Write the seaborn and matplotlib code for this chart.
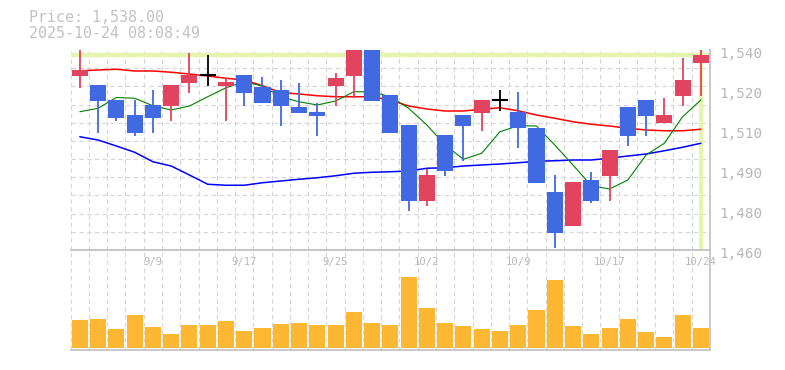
import numpy as np
import pandas as pd
import matplotlib
matplotlib.use("Agg")
import matplotlib.pyplot as plt
import matplotlib.transforms as mtransforms
import seaborn as sns

# ---------------- data ----------------
dates = ["9/3", "9/4", "9/5", "9/8", "9/9", "9/10", "9/11", "9/12", "9/16", "9/17",
         "9/18", "9/19", "9/22", "9/24", "9/25", "9/26", "9/29", "9/30", "10/1", "10/2",
         "10/3", "10/6", "10/7", "10/8", "10/9", "10/10", "10/14", "10/15", "10/16", "10/17",
         "10/20", "10/21", "10/22", "10/23", "10/24"]
opens = [1529.7, 1526.0, 1520.0, 1514.0, 1518.0, 1517.7, 1526.9, 1530.0, 1525.7, 1530.0,
         1525.2, 1524.0, 1517.3, 1515.3, 1525.7, 1529.7, 1543.0, 1522.0, 1510.0, 1479.7,
         1506.0, 1514.0, 1514.9, 1520.0, 1515.3, 1509.0, 1483.2, 1469.7, 1488.0, 1489.7,
         1517.1, 1520.0, 1510.9, 1521.7, 1534.9]
highs = [1542.0, 1526.0, 1520.0, 1520.0, 1524.0, 1526.0, 1539.0, 1538.0, 1529.0, 1530.0,
         1529.3, 1528.0, 1527.0, 1519.0, 1531.0, 1542.0, 1544.0, 1522.0, 1510.0, 1492.4,
         1506.0, 1514.0, 1520.0, 1524.0, 1523.3, 1509.0, 1490.0, 1487.2, 1491.2, 1500.0,
         1517.1, 1520.0, 1521.0, 1537.0, 1541.0]
lows = [1524.9, 1506.9, 1511.7, 1505.7, 1506.9, 1511.7, 1522.9, 1525.7, 1511.7, 1517.7,
        1518.9, 1509.7, 1514.9, 1505.7, 1517.7, 1521.0, 1519.7, 1506.9, 1475.7, 1477.7,
        1489.7, 1495.7, 1507.7, 1515.7, 1501.0, 1486.9, 1461.0, 1469.7, 1479.0, 1479.7,
        1501.7, 1505.7, 1510.9, 1517.7, 1521.7]
closes = [1532.0, 1519.7, 1512.9, 1506.9, 1512.9, 1526.0, 1530.0, 1530.0, 1527.3, 1522.9,
          1518.9, 1517.7, 1514.9, 1513.7, 1529.0, 1541.0, 1519.7, 1506.9, 1479.7, 1490.0,
          1491.7, 1509.7, 1520.0, 1520.0, 1508.9, 1486.9, 1466.9, 1487.2, 1479.7, 1500.0,
          1505.7, 1513.7, 1514.0, 1528.0, 1538.0]
volume = [277, 287, 187, 327, 207, 137, 227, 227, 267, 167,
          197, 237, 247, 227, 227, 357, 247, 227, 710, 397,
          247, 217, 187, 167, 227, 377, 677, 217, 137, 197,
          287, 157, 107, 327, 197]
ma_short = [1515.3, 1516.7, 1521.0, 1520.7, 1517.7, 1516.0, 1517.6, 1521.3, 1524.9, 1527.3,
            1525.6, 1521.3, 1519.3, 1518.0, 1519.6, 1523.3, 1523.3, 1521.3, 1516.7, 1510.0,
            1502.0, 1496.3, 1498.7, 1507.3, 1509.7, 1509.6, 1502.0, 1494.0, 1485.7, 1484.4,
            1488.0, 1498.0, 1502.7, 1513.3, 1520.0]
ma_mid = [1531.7, 1532.0, 1532.3, 1531.6, 1531.6, 1531.1, 1530.4, 1529.6, 1528.7, 1528.0,
          1525.7, 1523.0, 1522.4, 1521.7, 1521.3, 1521.3, 1521.3, 1520.0, 1517.6, 1516.4,
          1515.6, 1515.6, 1516.3, 1516.9, 1515.7, 1514.0, 1512.7, 1511.3, 1510.3, 1509.6,
          1508.7, 1508.0, 1507.7, 1507.7, 1508.3]
ma_long = [1505.3, 1504.0, 1501.6, 1499.1, 1495.3, 1493.6, 1490.0, 1486.3, 1485.9, 1485.9,
           1486.9, 1487.6, 1488.3, 1488.9, 1489.7, 1490.7, 1491.1, 1491.3, 1491.6, 1492.7,
           1492.9, 1493.6, 1494.0, 1494.4, 1494.9, 1495.5, 1495.7, 1496.0, 1496.0, 1496.7,
           1497.6, 1498.4, 1499.7, 1501.1, 1502.7]
price_ticks = [1460, 1476, 1492, 1508, 1524, 1540]
price_tick_labels = ["1,460", "1,480", "1,490", "1,510", "1,520", "1,540"]
current_price = 1538.0
title_lines = ["Price: 1,538.00", "2025-10-24 08:08:49"]

# ---------------- style ----------------
sns.set_theme(style="white")
plt.rcParams["font.family"] = ["DejaVu Sans Mono", "DejaVu Sans"]

UP = "#e2445f"
DOWN = "#4169e1"
GRID = "#d6d6d6"
SPINE = "#c4c4c4"
TXT = "#b8b8b8"
HL = "#e4f5b0"

df = pd.DataFrame({"idx": np.arange(len(dates)), "date": dates, "open": opens, "high": highs,
                   "low": lows, "close": closes, "vol": volume,
                   "ma_s": ma_short, "ma_m": ma_mid, "ma_l": ma_long})
n = len(df)
colors = [UP if c > o else (DOWN if c < o else "black") for o, c in zip(df.open, df.close)]

fig = plt.figure(figsize=(7.85, 3.7), dpi=100)
W, H = 785.0, 370.0
x0, x1 = 70.7, 710.0
ax = fig.add_axes([x0 / W, 1 - 250 / H, (x1 - x0) / W, 200 / H])
vax = fig.add_axes([x0 / W, 1 - 350 / H, (x1 - x0) / W, 100 / H])

# ---------------- price panel ----------------
ax.set_xlim(-0.5, n - 0.5)
ax.set_ylim(price_ticks[0], price_ticks[-1])
ax.set_xticks(np.arange(-0.5, n, 1.0))
ax.set_yticks(np.linspace(price_ticks[0], price_ticks[-1], 12), minor=True)
ax.grid(True, which="major", axis="x", color=GRID, lw=0.8, ls=(0, (4, 3)))
ax.grid(True, which="minor", axis="y", color=GRID, lw=0.8, ls=(0, (4, 3)))
ax.grid(False, which="major", axis="y")
ax.tick_params(axis="x", length=0, labelbottom=False)
ax.yaxis.tick_right()
ax.set_yticks(price_ticks)
ax.set_yticklabels(price_tick_labels)
ax.tick_params(axis="y", which="both", length=0, pad=7, labelsize=10.3, labelcolor=TXT)
off = mtransforms.ScaledTranslation(0, -3 / 100, fig.dpi_scale_trans)
for lab in ax.get_yticklabels():
    lab.set_transform(lab.get_transform() + off)
for s in ["top", "left"]:
    ax.spines[s].set_visible(False)
for s in ["right", "bottom"]:
    ax.spines[s].set_color(SPINE)
    ax.spines[s].set_linewidth(1.3)

# highlight of the current price and last date
ax.axhline(current_price, color=HL, lw=3.2, zorder=1)
ax.axvline(n - 1, color=HL, lw=3.0, zorder=1)

# moving averages
sns.lineplot(data=df, x="idx", y="ma_l", ax=ax, color="#0000ff", lw=1.1, zorder=2)
sns.lineplot(data=df, x="idx", y="ma_m", ax=ax, color="#ff0000", lw=1.1, zorder=2)
sns.lineplot(data=df, x="idx", y="ma_s", ax=ax, color="#008000", lw=0.8, zorder=2)

# candles
ax.vlines(df.idx, df.low, df.high, colors=colors, lw=1.3, zorder=3)
body = (df.close - df.open).to_numpy()
body_h = np.where(body == 0, 0.0, body)
ax.bar(df.idx, body_h, bottom=df.open, width=0.88, color=colors, zorder=4, linewidth=0)
doji = df[df.close == df.open]
ax.hlines(doji.close, doji.idx - 0.44, doji.idx + 0.44, colors="black", lw=1.5, zorder=4)
ax.set_xlabel("")
ax.set_ylabel("")

# ---------------- volume panel ----------------
sns.barplot(data=df, x="idx", y="vol", ax=vax, color="#fdb733", saturation=1,
            width=0.88, linewidth=0, zorder=3)
vax.set_xlim(-0.5, n - 0.5)
vax.set_ylim(-23, 977)
vax.set_xticks(np.arange(-0.5, n, 1.0))
vax.grid(True, which="major", axis="x", color=GRID, lw=0.8, ls=(0, (4, 3)))
vax.grid(False, axis="y")
vax.tick_params(axis="both", length=0, labelbottom=False, labelleft=False)
vax.set_yticks([])
vax.set_xlabel("")
vax.set_ylabel("")
vax.spines["left"].set_visible(False)
for s in ["top", "right", "bottom"]:
    vax.spines[s].set_color(SPINE)
    vax.spines[s].set_linewidth(1.3)

trans = mtransforms.blended_transform_factory(vax.transData, vax.transAxes)
for i, d in enumerate(dates):
    if i % 5 == 4:
        vax.text(i, 0.885, d, transform=trans, ha="center", va="center",
                 fontsize=7.6, color=TXT)

# ---------------- header ----------------
fig.text(29 / W, 1 - 17.3 / H, title_lines[0], fontsize=10.8, color="#c2c2c2", va="center")
fig.text(29 / W, 1 - 33.3 / H, title_lines[1], fontsize=10.8, color="#c2c2c2", va="center")

fig.savefig("out.png", dpi=100, facecolor="white")
